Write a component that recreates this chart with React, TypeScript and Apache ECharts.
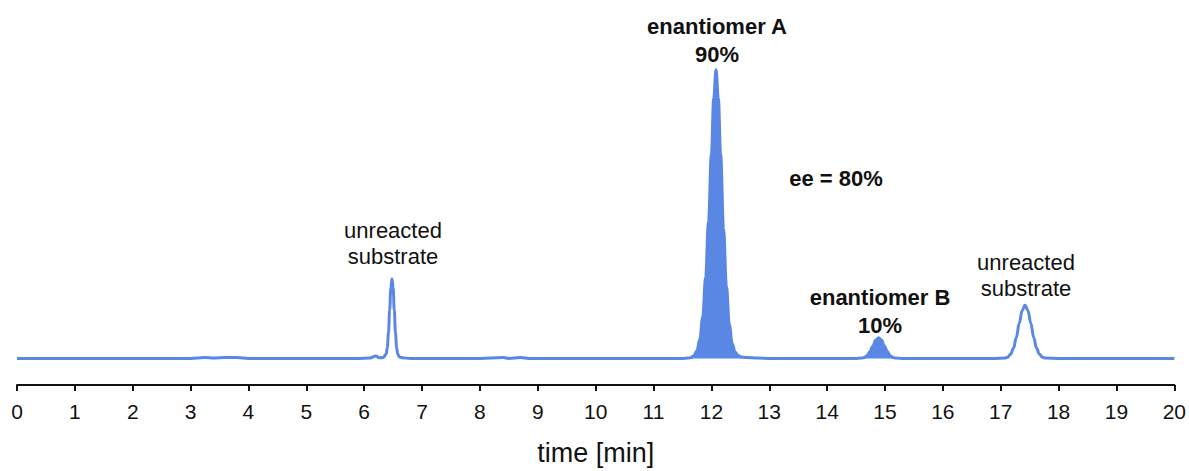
import React, { useEffect, useRef } from "react";
import * as echarts from "echarts";

// Chromatogram trace: time [min] and detector signal (relative units)
const traceTime = [
  0, 1, 2, 3.0, 3.25, 3.4, 3.6, 3.8, 4.0, 5.0, 5.9, 6.1, 6.2, 6.27, 6.33, 6.38, 6.4, 6.42, 6.44, 6.46, 6.48, 6.5,
  6.52, 6.54, 6.56, 6.58, 6.61, 6.66, 6.8, 7.2, 8.0, 8.4, 8.5, 8.7, 8.85, 9.5, 10.4, 11.0, 11.5, 11.6, 11.65,
  11.7, 11.75, 11.8, 11.85, 11.9, 11.95, 12.0, 12.04, 12.08, 12.12, 12.16, 12.21, 12.26, 12.31, 12.36,
  12.41, 12.46, 12.52, 12.6, 12.8, 13.0, 14.0, 14.5, 14.59, 14.64, 14.69, 14.74, 14.79, 14.84, 14.89, 14.94,
  14.99, 15.04, 15.09, 15.14, 15.19, 15.3, 16.0, 16.9, 17.07, 17.12, 17.17, 17.22, 17.27, 17.32, 17.37, 17.42,
  17.47, 17.52, 17.57, 17.62, 17.67, 17.72, 17.77, 18.0, 19.0, 20.0,
];
const traceSignal = [
  0, 0, 0, 0, 0.3, 0.1, 0.3, 0.3, 0, 0, 0, 0.1, 0.8, 0.2, 0.3, 1.5, 3.7, 8.8, 16.4, 23.8, 27, 23.8,
  16.4, 8.8, 3.7, 1.4, 0.5, 0.2, 0, 0, 0, 0.3, 0, 0.3, 0, 0, 0, 0, 0, 0.1, 0.3,
  1.0, 2.6, 6.5, 14.0, 27.5, 46.5, 69.0, 88.0, 97.7, 88.0, 69.0, 44.0, 24.5, 11.5, 5.0,
  2.2, 1.0, 0.5, 0.3, 0.1, 0, 0, 0, 0.1, 0.3, 0.9, 2.3, 4.2, 6.2, 7, 6.2,
  4.2, 2.3, 0.9, 0.3, 0.1, 0, 0, 0, 0.1, 0.4, 1.4, 3.4, 7.1, 11.9, 16.2, 18,
  16.2, 11.9, 7.1, 3.4, 1.4, 0.4, 0.1, 0, 0, 0,
];

// Time windows of the two shaded enantiomer peaks
const peakAWindow = [11.55, 12.85];
const peakBWindow = [14.55, 15.25];

const xTicks = [0, 20, 1]; // min, max, interval
const yRange = [-9, 100];

const COLOR = "#5a87e4";
const FONT = "'Liberation Sans', Arial, Helvetica, sans-serif";

export default function App() {
  const ref = useRef<HTMLDivElement>(null);

  useEffect(() => {
    if (!ref.current) return;
    const chart = echarts.init(ref.current, undefined, { renderer: "svg" });
    const trace = traceTime.map((t, i) => [t, traceSignal[i]]);
    const inWin = (w: number[]) => trace.filter((p) => p[0] >= w[0] && p[0] <= w[1]);

    const text = (str: string, x: number, y: number, size: number, bold: boolean) => ({
      type: "text",
      x,
      y,
      silent: true,
      style: {
        text: str,
        fill: "#111",
        font: `${bold ? "bold " : ""}${size}px ${FONT}`,
        align: "center",
        verticalAlign: "middle",
      },
    });

    chart.setOption({
      animation: false,
      backgroundColor: "#fff",
      grid: { left: 17, right: 13, top: 63, bottom: 81, containLabel: false },
      xAxis: {
        type: "value",
        min: xTicks[0],
        max: xTicks[1],
        interval: xTicks[2],
        name: "time [min]",
        nameLocation: "middle",
        nameGap: 54,
        nameTextStyle: { fontSize: 27, color: "#111", fontFamily: FONT },
        axisLine: { show: true, onZero: false, lineStyle: { color: "#111", width: 2 } },
        axisTick: { show: true, length: 6, lineStyle: { color: "#111", width: 2 } },
        axisLabel: { fontSize: 21, color: "#111", fontFamily: FONT, margin: 16 },
        splitLine: { show: false },
      },
      yAxis: {
        type: "value",
        min: yRange[0],
        max: yRange[1],
        show: false,
        splitLine: { show: false },
      },
      series: [
        {
          type: "line",
          data: inWin(peakAWindow),
          showSymbol: false,
          smooth: 0.4,
          smoothMonotone: "x",
          lineStyle: { width: 0 },
          areaStyle: { color: COLOR, opacity: 1, origin: 0 },
          z: 1,
        },
        {
          type: "line",
          data: inWin(peakBWindow),
          showSymbol: false,
          smooth: 0.4,
          smoothMonotone: "x",
          lineStyle: { width: 0 },
          areaStyle: { color: COLOR, opacity: 1, origin: 0 },
          z: 1,
        },
        {
          type: "line",
          data: trace,
          showSymbol: false,
          smooth: 0.4,
          smoothMonotone: "x",
          lineStyle: { color: COLOR, width: 3 },
          z: 2,
        },
      ],
      graphic: [
        text("unreacted", 393, 230, 22, false),
        text("substrate", 393, 256, 22, false),
        text("enantiomer A", 717, 26, 22, true),
        text("90%", 717, 54, 22, true),
        text("ee = 80%", 836, 178, 22, true),
        text("enantiomer B", 880, 297, 22, true),
        text("10%", 880, 325, 22, true),
        text("unreacted", 1026, 262, 22, false),
        text("substrate", 1026, 288, 22, false),
      ],
    });
    return () => chart.dispose();
  }, []);

  return (
    <div
      ref={ref}
      style={{ position: "fixed", left: 0, top: 0, width: 1189, height: 471, background: "#fff" }}
    />
  );
}
